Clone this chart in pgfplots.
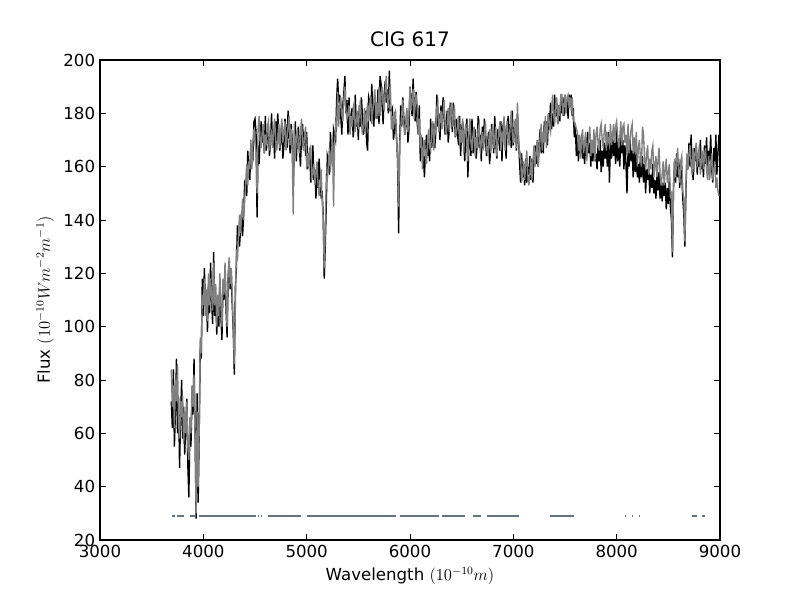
\documentclass[border=0pt]{standalone}
\usepackage{fontspec}
\setmainfont{DejaVu Sans}
\usepackage{pgfplots}
\pgfplotsset{compat=1.18}
\definecolor{maskc}{HTML}{65737A}
\definecolor{modelgray}{HTML}{808080}
\begin{document}
\begin{tikzpicture}
\path[use as bounding box] (0,0) rectangle (8in,6in);
\begin{axis}[at={(1in,0.6in)}, anchor=south west,
  width=6.2in, height=4.8in, scale only axis,
  xmin=3000, xmax=9000, ymin=20, ymax=200,
  xtick={3000,4000,...,9000}, ytick={20,40,...,200},
  tick align=inside, major tick length=4pt, minor tick num=0,
  /pgf/number format/1000 sep={},
  /pgf/number format/assume math mode=true,
  ticklabel style={font=\fontsize{12}{14}\selectfont},
  label style={font=\fontsize{12}{14}\selectfont},
  title style={font=\fontsize{14.4}{17}\selectfont},
  title={CIG 617},
  xlabel={Wavelength $(10^{-10}m)$},
  ylabel={Flux $(10^{-10}Wm^{-2}m^{-1})$},
  axis line style={line width=0.8pt},
  tick style={line width=0.5pt, black},
  unbounded coords=jump]
\addplot[black, line width=1pt] coordinates {
(3690,72) (3700,62) (3710,84) (3720,55) (3730,68) (3740,88) (3750,60) (3760,74) (3770,47) (3780,66)
(3790,80) (3800,58) (3810,70) (3820,52) (3830,64) (3840,73) (3850,48) (3860,36) (3870,62) (3880,55)
(3890,72) (3900,67) (3910,88) (3920,62) (3930,28) (3940,75) (3950,34) (3960,60) (3970,92) (3980,88)
(3990,118) (4000,104) (4010,122) (4020,108) (4030,112) (4040,98) (4050,116) (4060,105) (4070,124) (4080,110)
(4090,101) (4100,128) (4110,104) (4120,112) (4130,97) (4140,108) (4150,100) (4160,118) (4170,104) (4180,95)
(4190,115) (4200,110) (4210,121) (4220,106) (4230,96) (4240,118) (4250,124) (4260,114) (4270,120) (4280,108)
(4290,98) (4300,82) (4310,115) (4320,122) (4330,138) (4340,133) (4350,130) (4360,136) (4370,143) (4380,134)
(4390,142) (4400,154) (4410,153) (4420,149) (4430,166) (4440,159) (4450,155) (4460,168) (4470,166) (4480,164)
(4490,177) (4500,178) (4510,173) (4520,141) (4530,168) (4540,161) (4550,172) (4560,177) (4570,169) (4580,174)
(4590,165) (4600,179) (4610,166) (4620,172) (4630,175) (4640,164) (4650,169) (4660,180) (4670,168) (4680,173)
(4690,163) (4700,177) (4710,169) (4720,180) (4730,173) (4740,166) (4750,170) (4760,175) (4770,163) (4780,168)
(4790,178) (4800,174) (4810,167) (4820,181) (4830,171) (4840,165) (4850,176) (4860,170) (4870,152) (4880,166)
(4890,177) (4900,162) (4910,172) (4920,175) (4930,167) (4940,160) (4950,171) (4960,176) (4970,168) (4980,173)
(4990,164) (5000,173) (5010,159) (5020,164) (5030,166) (5040,154) (5050,158) (5060,168) (5070,155) (5080,159)
(5090,148) (5100,160) (5110,152) (5120,163) (5130,156) (5140,149) (5150,150) (5160,142) (5170,118) (5180,130)
(5190,146) (5200,164) (5210,162) (5220,157) (5230,173) (5240,165) (5250,161) (5260,174) (5270,172) (5280,170)
(5290,185) (5300,193) (5310,184) (5320,187) (5330,179) (5340,172) (5350,183) (5360,188) (5370,194) (5380,180)
(5390,185) (5400,172) (5410,186) (5420,173) (5430,179) (5440,182) (5450,171) (5460,176) (5470,187) (5480,175)
(5490,180) (5500,170) (5510,183) (5520,175) (5530,186) (5540,179) (5550,172) (5560,176) (5570,181) (5580,169)
(5590,166) (5600,186) (5610,184) (5620,177) (5630,191) (5640,181) (5650,175) (5660,186) (5670,182) (5680,178)
(5690,189) (5700,176) (5710,194) (5720,191) (5730,183) (5740,176) (5750,187) (5760,192) (5770,184) (5780,189)
(5790,180) (5800,196) (5810,181) (5820,181) (5830,182) (5840,170) (5850,174) (5860,178) (5870,171) (5880,162)
(5890,135) (5900,168) (5910,183) (5920,175) (5930,186) (5940,179) (5950,172) (5960,176) (5970,181) (5980,169)
(5990,174) (6000,190) (6010,186) (6020,179) (6030,193) (6040,183) (6050,177) (6060,188) (6070,176) (6080,172)
(6090,183) (6100,162) (6110,168) (6120,171) (6130,163) (6140,156) (6150,167) (6160,172) (6170,164) (6180,169)
(6190,162) (6200,178) (6210,167) (6220,173) (6230,176) (6240,167) (6250,174) (6260,187) (6270,175) (6280,180)
(6290,170) (6300,183) (6310,175) (6320,186) (6330,179) (6340,172) (6350,176) (6360,181) (6370,169) (6380,174)
(6390,184) (6400,180) (6410,173) (6420,184) (6430,177) (6440,171) (6450,178) (6460,172) (6470,168) (6480,179)
(6490,164) (6500,174) (6510,177) (6520,169) (6530,162) (6540,173) (6550,178) (6560,156) (6570,168) (6580,173)
(6590,164) (6600,178) (6610,165) (6620,171) (6630,174) (6640,163) (6650,168) (6660,179) (6670,167) (6680,172)
(6690,162) (6700,175) (6710,167) (6720,178) (6730,171) (6740,164) (6750,168) (6760,173) (6770,161) (6780,166)
(6790,176) (6800,172) (6810,165) (6820,179) (6830,169) (6840,163) (6850,174) (6860,170) (6870,166) (6880,177)
(6890,162) (6900,175) (6910,178) (6920,170) (6930,163) (6940,174) (6950,179) (6960,171) (6970,176) (6980,167)
(6990,181) (7000,168) (7010,174) (7020,177) (7030,166) (7040,180) (7050,170) (7060,162) (7070,154) (7080,165)
(7090,156) (7100,161) (7110,153) (7120,163) (7130,154) (7140,160) (7150,157) (7160,164) (7170,155) (7180,163)
(7190,154) (7200,164) (7210,168) (7220,161) (7230,169) (7240,160) (7250,169) (7260,174) (7270,165) (7280,171)
(7290,165) (7300,177) (7310,171) (7320,177) (7330,168) (7340,180) (7350,174) (7360,184) (7370,174) (7380,180)
(7390,175) (7400,187) (7410,179) (7420,184) (7430,176) (7440,183) (7450,177) (7460,186) (7470,180) (7480,186)
(7490,179) (7500,187) (7510,182) (7520,185) (7530,178) (7540,187) (7550,183) (7560,187) (7570,179) (7580,182)
(7590,171) (7600,175) (7610,164) (7620,172) (7630,162) (7640,170) (7650,165) (7660,172) (7670,163) (7680,168)
(7690,161) (7700,171) (7710,164) (7720,173) (7730,165) (7740,169) (7750,160) (7760,170) (7770,162) (7780,171)
(7790,162) (7800,165) (7810,159) (7820,168) (7830,162) (7840,170) (7850,158) (7860,166) (7870,160) (7880,169)
(7890,163) (7900,168) (7910,160) (7920,173) (7930,154) (7940,170) (7950,163) (7960,172) (7970,164) (7980,169)
(7990,161) (8000,174) (8010,162) (8020,168) (8030,160) (8040,171) (8050,165) (8060,170) (8070,159) (8080,168)
(8090,161) (8100,150) (8110,167) (8120,160) (8130,170) (8140,162) (8150,166) (8160,156) (8170,166) (8180,158)
(8190,165) (8200,156) (8210,161) (8220,154) (8230,164) (8240,156) (8250,164) (8260,154) (8270,161) (8280,150)
(8290,159) (8300,155) (8310,161) (8320,150) (8330,157) (8340,152) (8350,161) (8360,150) (8370,155) (8380,148)
(8390,157) (8400,151) (8410,158) (8420,148) (8430,154) (8440,147) (8450,154) (8460,149) (8470,154) (8480,144)
(8490,152) (8500,146) (8510,156) (8520,145) (8530,140) (8540,126) (8550,152) (8560,162) (8570,154) (8580,165)
(8590,156) (8600,163) (8610,152) (8620,161) (8630,157) (8640,148) (8650,142) (8660,130) (8670,150) (8680,164)
(8690,159) (8700,169) (8710,160) (8720,172) (8730,161) (8740,155) (8750,167) (8760,162) (8770,168) (8780,157)
(8790,165) (8800,160) (8810,170) (8820,159) (8830,164) (8840,156) (8850,168) (8860,161) (8870,171) (8880,158)
(8890,166) (8900,162) (8910,172) (8920,159) (8930,154) (8940,167) (8950,161) (8960,172) (8970,157) (8980,165)
(8990,172)
};
\addplot[modelgray, line width=1pt] coordinates {
(3690,84) (3700,70) (3710,78) (3720,62) (3730,80) (3740,72) (3750,86) (3760,64) (3770,58) (3780,72)
(3790,66) (3800,74) (3810,56) (3820,68) (3830,60) (3840,72) (3850,55) (3860,50) (3870,66) (3880,60)
(3890,78) (3900,70) (3910,82) (3920,60) (3930,30) (3940,68) (3950,40) (3960,62) (3970,96) (3980,90)
(3990,112) (4000,108) (4010,118) (4020,104) (4030,114) (4040,102) (4050,120) (4060,108) (4070,118) (4080,112)
(4090,106) (4100,124) (4110,108) (4120,116) (4130,100) (4140,112) (4150,104) (4160,120) (4170,108) (4180,100)
(4190,118) (4200,112) (4210,124) (4220,110) (4230,100) (4240,120) (4250,126) (4260,116) (4270,122) (4280,112)
(4290,100) (4300,86) (4310,108) (4320,129) (4330,125) (4340,134) (4350,142) (4360,135) (4370,141) (4380,148)
(4390,140) (4400,147) (4410,154) (4420,161) (4430,153) (4440,162) (4450,159) (4460,170) (4470,159) (4480,169)
(4490,174) (4500,169) (4510,166) (4520,150) (4530,174) (4540,179) (4550,170) (4560,167) (4570,173) (4580,176)
(4590,165) (4600,172) (4610,168) (4620,175) (4630,177) (4640,166) (4650,170) (4660,174) (4670,167) (4680,173)
(4690,178) (4700,170) (4710,166) (4720,170) (4730,176) (4740,167) (4750,174) (4760,178) (4770,169) (4780,173)
(4790,177) (4800,166) (4810,171) (4820,175) (4830,179) (4840,168) (4850,174) (4860,167) (4870,142) (4880,176)
(4890,163) (4900,171) (4910,174) (4920,168) (4930,165) (4940,173) (4950,178) (4960,169) (4970,166) (4980,172)
(4990,175) (5000,159) (5010,165) (5020,160) (5030,166) (5040,167) (5050,155) (5060,158) (5070,161) (5080,153)
(5090,158) (5100,162) (5110,153) (5120,149) (5130,153) (5140,159) (5150,147) (5160,141) (5170,122) (5180,137)
(5190,156) (5200,155) (5210,161) (5220,167) (5230,158) (5240,165) (5250,171) (5260,145) (5270,168) (5280,176)
(5290,175) (5300,188) (5310,175) (5320,183) (5330,186) (5340,180) (5350,177) (5360,185) (5370,190) (5380,181)
(5390,178) (5400,180) (5410,183) (5420,172) (5430,179) (5440,175) (5450,182) (5460,184) (5470,173) (5480,177)
(5490,181) (5500,174) (5510,180) (5520,185) (5530,176) (5540,172) (5550,176) (5560,182) (5570,173) (5580,180)
(5590,184) (5600,177) (5610,183) (5620,187) (5630,176) (5640,181) (5650,185) (5660,189) (5670,178) (5680,184)
(5690,179) (5700,190) (5710,179) (5720,187) (5730,190) (5740,184) (5750,181) (5760,189) (5770,194) (5780,185)
(5790,182) (5800,188) (5810,191) (5820,174) (5830,179) (5840,174) (5850,180) (5860,181) (5870,169) (5880,165)
(5890,145) (5900,168) (5910,174) (5920,180) (5930,185) (5940,176) (5950,172) (5960,176) (5970,182) (5980,173)
(5990,180) (6000,190) (6010,181) (6020,185) (6030,189) (6040,178) (6050,183) (6060,187) (6070,183) (6080,172)
(6090,178) (6100,167) (6110,172) (6120,159) (6130,167) (6140,170) (6150,164) (6160,161) (6170,169) (6180,174)
(6190,167) (6200,166) (6210,174) (6220,177) (6230,166) (6240,175) (6250,173) (6260,182) (6270,184) (6280,173)
(6290,177) (6300,181) (6310,174) (6320,180) (6330,185) (6340,176) (6350,172) (6360,176) (6370,182) (6380,173)
(6390,180) (6400,184) (6410,175) (6420,179) (6430,183) (6440,172) (6450,173) (6460,175) (6470,179) (6480,168)
(6490,174) (6500,169) (6510,178) (6520,165) (6530,173) (6540,176) (6550,170) (6560,162) (6570,173) (6580,178)
(6590,169) (6600,166) (6610,172) (6620,175) (6630,164) (6640,171) (6650,167) (6660,174) (6670,176) (6680,165)
(6690,169) (6700,173) (6710,166) (6720,172) (6730,177) (6740,168) (6750,164) (6760,168) (6770,174) (6780,165)
(6790,172) (6800,176) (6810,167) (6820,171) (6830,175) (6840,164) (6850,169) (6860,173) (6870,177) (6880,166)
(6890,172) (6900,170) (6910,179) (6920,166) (6930,174) (6940,177) (6950,171) (6960,168) (6970,176) (6980,181)
(6990,172) (7000,169) (7010,175) (7020,178) (7030,167) (7040,184) (7050,171) (7060,164) (7070,165) (7080,154)
(7090,158) (7100,162) (7110,155) (7120,161) (7130,166) (7140,157) (7150,153) (7160,157) (7170,163) (7180,155)
(7190,162) (7200,168) (7210,160) (7220,165) (7230,170) (7240,160) (7250,166) (7260,171) (7270,176) (7280,166)
(7290,173) (7300,169) (7310,179) (7320,167) (7330,176) (7340,180) (7350,175) (7360,173) (7370,181) (7380,187)
(7390,179) (7400,176) (7410,183) (7420,186) (7430,176) (7440,183) (7450,179) (7460,187) (7470,187) (7480,179)
(7490,183) (7500,187) (7510,180) (7520,186) (7530,187) (7540,182) (7550,186) (7560,181) (7570,186) (7580,177)
(7590,177) (7600,176) (7610,174) (7620,173) (7630,166) (7640,172) (7650,163) (7660,170) (7670,174) (7680,165)
(7690,169) (7700,173) (7710,162) (7720,167) (7730,171) (7740,175) (7750,164) (7760,170) (7770,165) (7780,174)
(7790,162) (7800,172) (7810,175) (7820,169) (7830,166) (7840,174) (7850,176) (7860,170) (7870,167) (7880,173)
(7890,176) (7900,166) (7910,173) (7920,170) (7930,168) (7940,176) (7950,168) (7960,172) (7970,176) (7980,169)
(7990,175) (8000,177) (8010,171) (8020,167) (8030,171) (8040,177) (8050,168) (8060,175) (8070,176) (8080,169)
(8090,172) (8100,164) (8110,176) (8120,165) (8130,170) (8140,174) (8150,176) (8160,165) (8170,171) (8180,165)
(8190,173) (8200,160) (8210,167) (8220,170) (8230,163) (8240,160) (8250,175) (8260,172) (8270,163) (8280,159)
(8290,165) (8300,168) (8310,157) (8320,163) (8330,159) (8340,166) (8350,168) (8360,156) (8370,160) (8380,164)
(8390,156) (8400,162) (8410,167) (8420,157) (8430,153) (8440,157) (8450,162) (8460,153) (8470,159) (8480,163)
(8490,154) (8500,158) (8510,161) (8520,149) (8530,150) (8540,128) (8550,152) (8560,163) (8570,156) (8580,162)
(8590,167) (8600,158) (8610,154) (8620,162) (8630,164) (8640,151) (8650,148) (8660,132) (8670,153) (8680,165)
(8690,159) (8700,165) (8710,168) (8720,161) (8730,157) (8740,167) (8750,158) (8760,165) (8770,169) (8780,160)
(8790,164) (8800,168) (8810,157) (8820,162) (8830,166) (8840,159) (8850,164) (8860,167) (8870,159) (8880,155)
(8890,164) (8900,155) (8910,161) (8920,165) (8930,155) (8940,159) (8950,162) (8960,152) (8970,156) (8980,151)
(8990,149)
};
\addplot[maskc, line width=1.5pt] coordinates {
(3695,29) (3726,29) (3735,nan)
(3745,29) (3809,29) (3840,nan)
(3871,29) (3926,29) (3940,nan)
(3954,29) (4510,29) (4520,nan)
(4530,29) (4536,29) (4545,nan)
(4554,29) (4560,29) (4590,nan)
(4625,29) (4945,29) (4970,nan)
(5008,29) (5868,29) (5880,nan)
(5903,29) (6281,29) (6295,nan)
(6310,29) (6529,29) (6560,nan)
(6605,29) (6690,29) (6720,nan)
(6745,29) (7058,29) (7200,nan)
(7355,29) (7583,29) (7800,nan)
(8079,29) (8085,29) (8110,nan)
(8146,29) (8152,29) (8190,nan)
(8220,29) (8226,29) (8500,nan)
(8732,29) (8775,29) (8800,nan)
(8830,29) (8858,29)
};
\end{axis}
\end{tikzpicture}
\end{document}
